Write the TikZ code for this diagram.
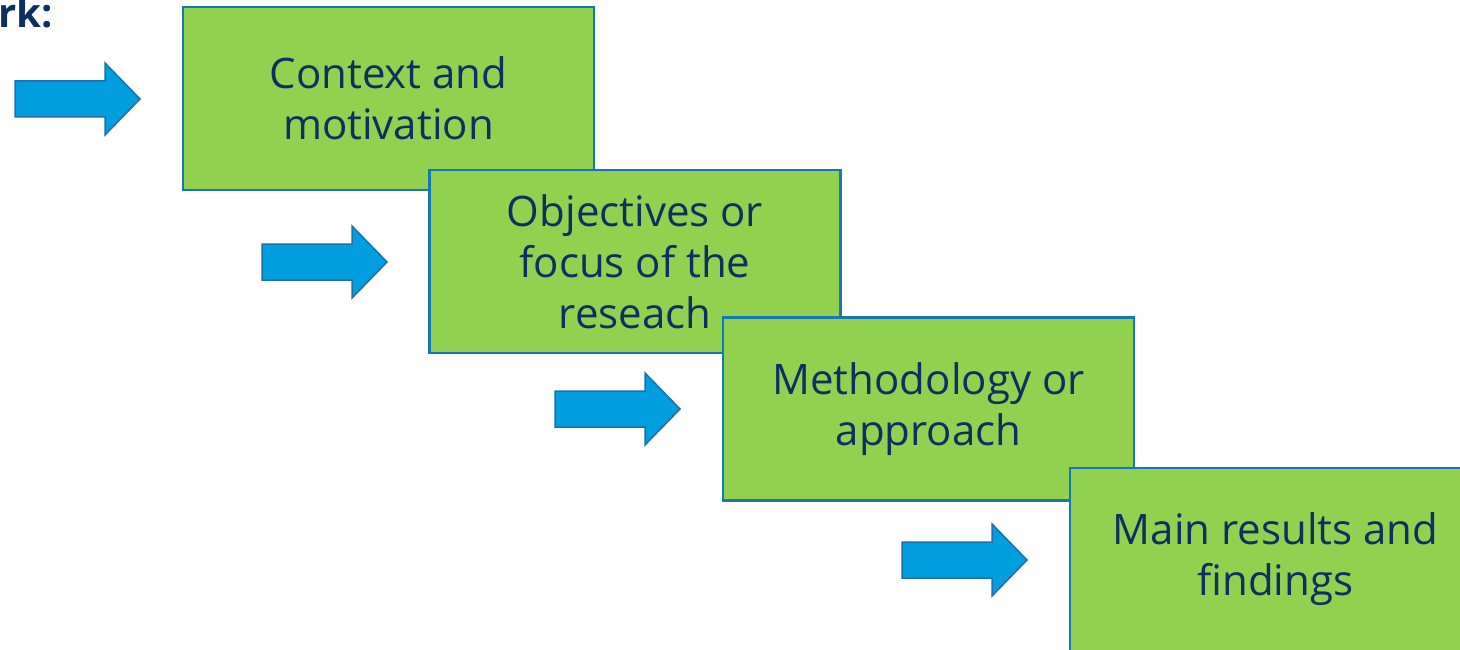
\documentclass[tikz,border=0pt]{standalone}
\usepackage{fontspec}
\setmainfont{Open Sans}
\usepackage{xcolor}
\definecolor{boxgreen}{HTML}{92D050}
\definecolor{boxline}{HTML}{1478B4}
\definecolor{arrowfill}{HTML}{009DDF}
\definecolor{arrowline}{HTML}{1A72A8}
\definecolor{navytext}{HTML}{0C3160}

\tikzset{
  stepbox/.style={draw=boxline, line width=2.2pt, fill=boxgreen, text=navytext,
    minimum width=411pt, minimum height=183pt, align=center, inner sep=0pt,
    font=\fontsize{42}{51}\selectfont},
  blockarrow/.pic={
    \draw[fill=arrowfill, draw=arrowline, line width=1.5pt, line join=miter]
      (-125,-18) -- (-35,-18) -- (-35,-36) -- (0,0) -- (-35,36) -- (-35,18) -- (-125,18) -- cycle;
  }
}

\begin{document}
\begin{tikzpicture}[x=1pt, y=-1pt]

    \useasboundingbox (0,0) rectangle (1460,650);
    \clip (0,0) rectangle (1460,650);

    \node[anchor=base west, text=navytext, inner sep=0pt, font=\fontsize{40}{48}\bfseries\selectfont] (work) at (-2,28) {rk:};

    \node[stepbox] (context) at (388.5,98.5) {Context and\\motivation};
    \node[stepbox] (focus) at (635,261.5) {Objectives or\\focus of the\\reseach};
    \node[stepbox] (method) at (928.5,409) {Methodology or\\approach};
    \node[stepbox] (results) at (1275.5,559.5) {Main results and\\findings};

    \pic at (140,99) {blockarrow};
    \pic at (387,262) {blockarrow};
    \pic at (680,409) {blockarrow};
    \pic at (1027,560) {blockarrow};

\end{tikzpicture}
\end{document}
